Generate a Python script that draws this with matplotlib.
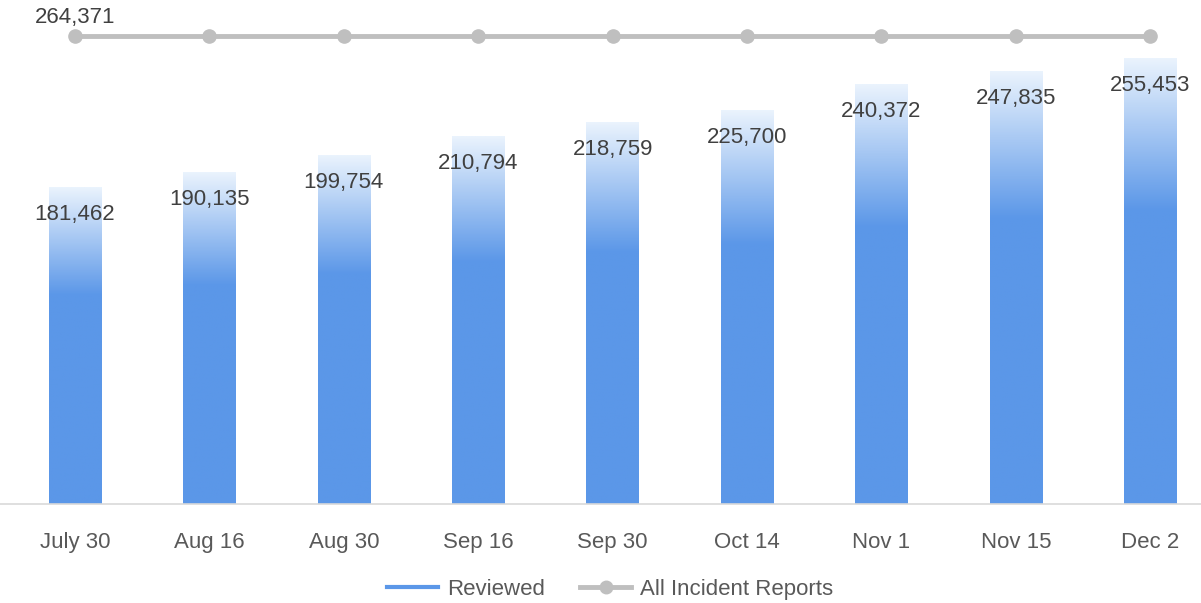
import matplotlib.pyplot as plt
import numpy as np
from matplotlib.colors import LinearSegmentedColormap
from matplotlib.lines import Line2D

dates = ["July 30", "Aug 16", "Aug 30", "Sep 16", "Sep 30", "Oct 14", "Nov 1", "Nov 15", "Dec 2"]
reviewed = [181462, 190135, 199754, 210794, 218759, 225700, 240372, 247835, 255453]
all_reports = [264371] * 9

plt.rcParams['font.family'] = ['Liberation Sans', 'DejaVu Sans']

blue = "#5B97E8"
light = "#EAF3FD"
grad = LinearSegmentedColormap.from_list("g", [(0, blue), (0.66, blue), (1, light)])

fig = plt.figure(figsize=(12.01, 6.03), dpi=100)
ax = fig.add_axes([0, 0.164, 1, 0.836])

x = np.arange(len(dates))
w = 0.39
ramp = np.linspace(0, 1, 256).reshape(-1, 1)
for xi, v in zip(x, reviewed):
    ax.imshow(ramp, cmap=grad, origin="lower", aspect="auto",
              extent=[xi - w / 2, xi + w / 2, 0, v], zorder=2)
    ax.annotate(f"{v:,}", (xi, v), xytext=(0, -19.5), textcoords="offset points",
                ha="center", va="center", fontsize=16, color="#404040", zorder=5)

# secondary axis for the total line
ax2 = ax.twinx()
ax2.plot(x, all_reports, color="#BFBFBF", lw=3.5, marker="o", ms=9.5, zorder=3)
ax2.annotate(f"{all_reports[0]:,}", (x[0], all_reports[0]), xytext=(0, 13),
             textcoords="offset points", ha="center", va="center",
             fontsize=16, color="#404040")
ax2.set_ylim(0, 284700)
ax2.set_yticks([])
ax2.axis("off")

ax.set_xlim(-0.558, 8.378)
ax2.set_xlim(-0.558, 8.378)
ax.set_ylim(0, 288800)
ax.set_yticks([])
ax.set_xticks(x)
ax.set_xticklabels(dates, fontsize=16, color="#595959")
ax.tick_params(axis="x", length=0, pad=20)
for s in ["top", "left", "right"]:
    ax.spines[s].set_visible(False)
ax.spines["bottom"].set_color("#D9D9D9")
ax.spines["bottom"].set_linewidth(1.2)

handles = [Line2D([], [], color=blue, lw=3),
           Line2D([], [], color="#BFBFBF", lw=3.5, marker="o", ms=9)]
fig.legend(handles, ["Reviewed", "All Incident Reports"], loc="center",
           bbox_to_anchor=(0.508, 0.022), ncol=2, frameon=False, fontsize=16,
           labelcolor="#595959", handlelength=2.3, handletextpad=0.4, columnspacing=1.6)

fig.savefig("out.png", dpi=100)
